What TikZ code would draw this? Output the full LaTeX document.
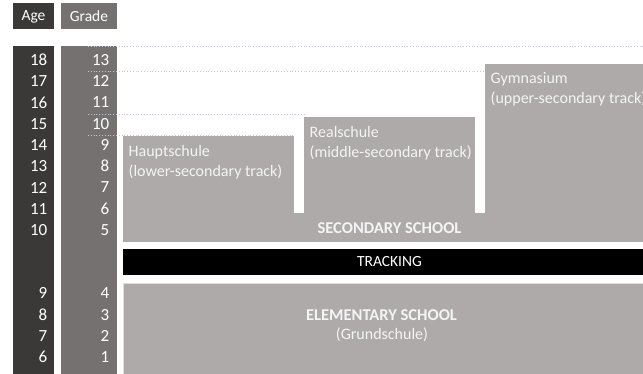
\documentclass[tikz,border=0pt]{standalone}
\usepackage{fontspec}
\setmainfont{Carlito}
\usetikzlibrary{positioning}
\definecolor{agedark}{HTML}{3B3838}
\definecolor{gradegray}{HTML}{767171}
\definecolor{schoolgray}{HTML}{AEAAAA}
\definecolor{guidegray}{HTML}{C8C8D6}
\definecolor{labelwhite}{HTML}{F4F4F4}
\tikzset{
	headbox/.style={
		rectangle, inner sep=0pt,
		minimum height=26pt,
		text=white,
		font=\fontsize{15.5}{18}\selectfont
	},
	number/.style={anchor=east, inner sep=0pt, text=white, font=\fontsize{17}{19}\selectfont},
	schoolbox/.style={rectangle, fill=schoolgray, draw=none, inner sep=0pt, anchor=north west},
	tracklabel/.style={anchor=base west, inner sep=0pt, text=labelwhite, font=\fontsize{16}{19}\selectfont},
	schoollabel/.style={inner sep=0pt, text=labelwhite, font=\fontsize{16}{19}\selectfont},
	boldlabel/.style={schoollabel, font=\fontsize{16.5}{19}\selectfont\bfseries},
	guide/.style={guidegray, dotted, line width=0.8pt}
}

\begin{document}
\begin{tikzpicture}[x=1pt,y=-1pt]
	\useasboundingbox (0,0) rectangle (643,374);

	%% headers
	\node[headbox, fill=agedark, minimum width=41pt] (agehead) at (33.5,16.5) {Age};
	\node[headbox, fill=gradegray, minimum width=56pt] (gradehead) at (89,16) {Grade};

	%% age and grade columns
	\fill[agedark] (13,46) rectangle (54,374);
	\fill[gradegray] (61,46) rectangle (117,374);

	\foreach \age in {10,...,18}
	{
		\pgfmathsetmacro\ypos{60+(18-\age)*21.25}
		\pgfmathtruncatemacro\grade{\age-5}
		\node[number] (age\age) at (47.5,\ypos) {\age};
		\node[number] (grade\grade) at (109.5,\ypos) {\grade};
	}
	\foreach \age in {6,...,9}
	{
		\pgfmathsetmacro\ypos{293.3+(9-\age)*21.3}
		\pgfmathtruncatemacro\grade{\age-5}
		\node[number] (age\age) at (47.5,\ypos) {\age};
		\node[number] (grade\grade) at (109.5,\ypos) {\grade};
	}

	%% secondary school
	\node[schoolbox, minimum width=520pt, minimum height=29pt] (secbase) at (123,213) {};
	\node[schoolbox, minimum width=171pt, minimum height=78pt] (haupt) at (123,136) {};
	\node[schoolbox, minimum width=171pt, minimum height=97pt] (real) at (304,117) {};
	\node[schoolbox, minimum width=160pt, minimum height=150pt] (gym) at (485,64) {};

	\node[tracklabel] (hauptname) at ([xshift=5.5pt,yshift=-21pt]haupt.north west) {Hauptschule};
	\node[tracklabel] (hauptsub) at ([yshift=-19.5pt]hauptname.base west) {(lower-secondary track)};
	\node[tracklabel] (realname) at ([xshift=5.5pt,yshift=-21pt]real.north west) {Realschule};
	\node[tracklabel] (realsub) at ([yshift=-19.5pt]realname.base west) {(middle-secondary track)};
	\node[tracklabel] (gymname) at ([xshift=5.5pt,yshift=-20pt]gym.north west) {Gymnasium};
	\node[tracklabel] (gymsub) at ([yshift=-19.5pt]gymname.base west) {(upper-secondary track)};

	\node[boldlabel] (seclabel) at (389.5,228) {SECONDARY SCHOOL};

	%% tracking
	\node[rectangle, fill=black, inner sep=0pt, anchor=north west, minimum width=520pt, minimum height=26pt] (tracking) at (123,249) {};
	\node[schoollabel, text=white, font=\fontsize{15.5}{19}\selectfont] (tracklbl) at (389.5,262) {TRACKING};

	%% elementary school
	\node[schoolbox, draw=schoolgray!40, line width=0.8pt, minimum width=522pt, minimum height=93pt] (elem) at (123,283) {};
	\node[boldlabel] (elemlabel) at (381.5,315.5) {ELEMENTARY SCHOOL};
	\node[schoollabel] (elemsub) at (382,335) {(Grundschule)};

	%% guide lines
	\draw[guide] (88,46) -- (643,46);
	\draw[guide] (88,71.5) -- (gym.west |- 0,71.5);
	\draw[guide] (88,114) -- (real.west |- 0,114);
	\draw[guide] (88,135) -- (haupt.east |- 0,135);

\end{tikzpicture}
\end{document}
